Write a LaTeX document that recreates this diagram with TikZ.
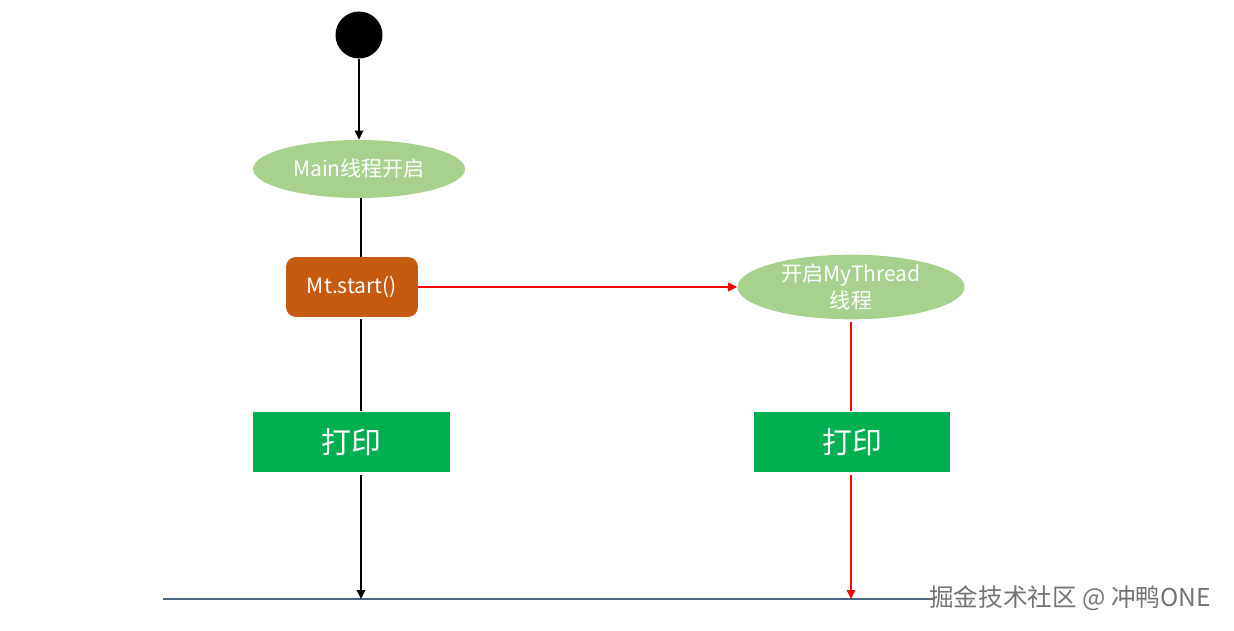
\documentclass[tikz,border=0pt]{standalone}
\usepackage{fontspec}
\setmainfont{Noto Sans CJK SC}
\usepackage{tikz}
\usetikzlibrary{shapes.geometric, positioning, calc, arrows.meta}

\definecolor{ovalgreen}{HTML}{A9D18E}
\definecolor{startorange}{HTML}{C55A11}
\definecolor{printgreen}{HTML}{00B050}
\definecolor{baseblue}{HTML}{4B6584}

\tikzset{
    oval/.style={ellipse, fill=ovalgreen, text=white, font=\fontsize{12}{15}\selectfont, align=center, inner sep=0pt},
    printbox/.style={rectangle, fill=printgreen, text=white, font=\fontsize{17}{20}\selectfont,
        minimum width=3.94cm, minimum height=1.22cm},
    flow/.style={line width=0.7pt},
    tip/.style={-{Triangle[length=0.18cm, width=0.17cm]}}
}

\begin{document}
\begin{tikzpicture}[x=0.02cm, y=-0.02cm]
    \useasboundingbox (0,0) rectangle (1234,631);

    % Nodes of the main thread
    \node[circle, fill=black, minimum size=0.94cm, inner sep=0pt] (start) at (359,35) {};
    \node[oval, minimum width=4.24cm, minimum height=1.16cm] (mainoval) at (359,169) {Main线程开启};
    \node[rectangle, rounded corners=0.2cm, fill=startorange, text=white, font=\fontsize{12}{14}\selectfont,
        minimum width=2.64cm, minimum height=1.2cm] (mtstart) at (352,287) {Mt.start()};
    \node[printbox] (printmain) at (351.5,442) {打印};

    % Nodes of the new thread
    \node[oval, minimum width=4.54cm, minimum height=1.14cm] (threadoval) at (851,287) {开启MyThread\\线程};
    \node[printbox] (printthread) at (852,442) {打印};

    % Baseline
    \coordinate (baseL) at (163,599);
    \coordinate (baseR) at (935,599);
    \draw[baseblue, line width=0.6pt] (baseL) -- (baseR);

    % Main thread connectors
    \draw[flow, tip] (start) -- (mainoval.north -| start);
    \draw[flow] ($(mainoval.south)+(2,0)$) -- ($(mainoval.south |- mtstart.north)+(2,0)$);
    \draw[flow] ($(mainoval.south |- mtstart.south)+(2,2)$) -- ($(mainoval.south |- printmain.north)+(2,0)$);
    \draw[flow, tip] ($(mainoval.south |- printmain.south)+(2,2)$) -- ($(mainoval.south |- baseL)+(2,0)$);

    % New thread connectors
    \draw[flow, red, tip] (mtstart.east) -- (threadoval.west);
    \draw[flow, red] ($(threadoval.south)+(0,2)$) -- (threadoval.south |- printthread.north);
    \draw[flow, red, tip] ($(threadoval.south |- printthread.south)+(0,2)$) -- (threadoval.south |- baseR);

    % Watermark
    \node[text=black!55, font=\fontsize{14}{16}\selectfont, inner sep=0pt] (mark) at (1070,598) {掘金技术社区 @ 冲鸭ONE};
\end{tikzpicture}
\end{document}
